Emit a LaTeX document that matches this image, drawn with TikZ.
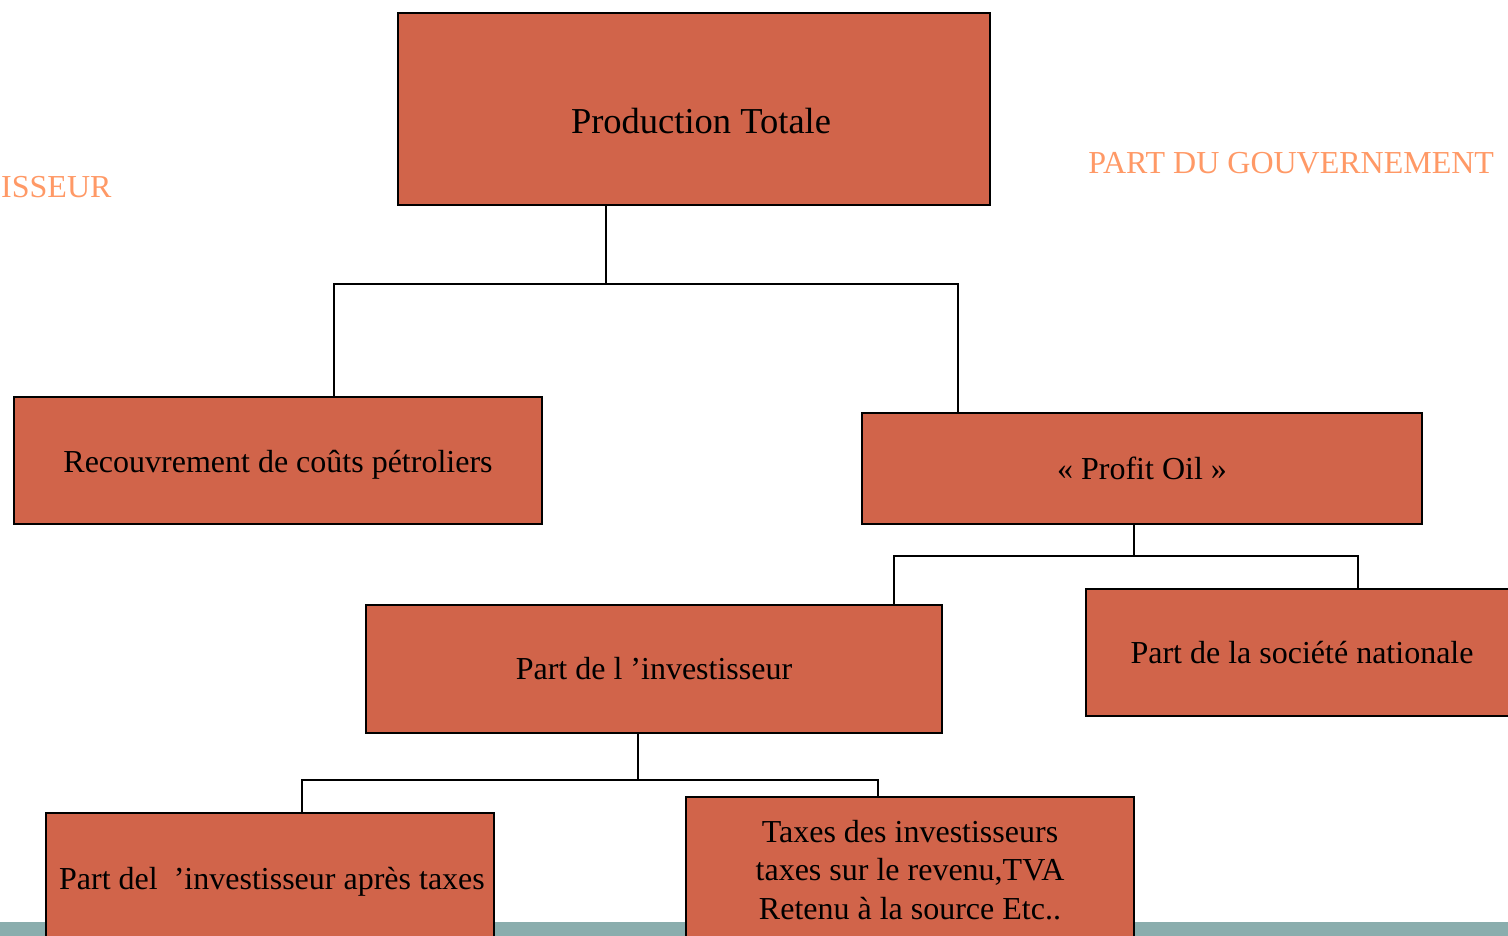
\documentclass[tikz,border=0pt]{standalone}
\usepackage{fontspec}
\setmainfont{Liberation Serif}
\usepackage{tikz}
\usetikzlibrary{positioning}

\definecolor{boxfill}{RGB}{209,100,74}
\definecolor{parttext}{RGB}{255,153,102}
\definecolor{bandteal}{RGB}{138,173,173}

\begin{document}
\begin{tikzpicture}[
  x=1pt, y=-1pt,
  line width=2.5pt,
  font=\fontsize{32}{38.5}\selectfont,
  part/.style={draw, fill=boxfill, align=center, inner sep=0pt, line width=2.5pt},
  side/.style={text=parttext, inner sep=0pt},
  link/.style={draw, line width=2.5pt}
]
\clip (0,0) rectangle (1508,936);
\fill[white] (0,0) rectangle (1508,936);
\fill[bandteal] (0,922) rectangle (1508,936);

\node[part, minimum width=592, minimum height=192, font=\fontsize{36.5}{40}\selectfont] (prod) at (694,109) {\raisebox{-12pt}[\height][\depth]{\hspace{14pt}Production Totale}};
\node[part, minimum width=528, minimum height=127] (recouv) at (278,460.5) {\raisebox{-4pt}[\height][\depth]{Recouvrement de coûts pétroliers}};
\node[part, minimum width=560, minimum height=111] (profit) at (1142,468.5) {«~Profit Oil~»};
\node[part, minimum width=576, minimum height=128] (invest) at (654,669) {Part de l ’investisseur};
\node[part, minimum width=432, minimum height=127] (societe) at (1302,652.5) {Part de la société nationale};
\node[part, minimum width=448, minimum height=132] (apres) at (270,879) {\raisebox{-3pt}[\height][\depth]{\hspace{4pt}Part del\ \ ’investisseur après taxes}};
\node[part, minimum width=448, minimum height=146] (taxes) at (910,870) {Taxes des investisseurs\\taxes sur le revenu,TVA\\Retenu à la source Etc..};

\node[side, anchor=west] (lgauche) at (0,187) {ISSEUR};
\node[side, anchor=west] (ldroite) at (1087,163) {PART DU GOUVERNEMENT};

% branches
\coordinate (j1) at (606,284);
\coordinate (j2) at (1134,556);
\coordinate (j3) at (638,780);

\draw[link] (prod.south -| j1) -- (j1);
\draw[link] (j1) -| ([xshift=56pt]recouv.north);
\draw[link] (j1) -| ([xshift=-184pt]profit.north);

\draw[link] (profit.south -| j2) -- (j2);
\draw[link] (j2) -| ([xshift=240pt]invest.north);
\draw[link] (j2) -| ([xshift=56pt]societe.north);

\draw[link] (invest.south -| j3) -- (j3);
\draw[link] (j3) -| ([xshift=32pt]apres.north);
\draw[link] (j3) -| ([xshift=-32pt]taxes.north);
\end{tikzpicture}
\end{document}
